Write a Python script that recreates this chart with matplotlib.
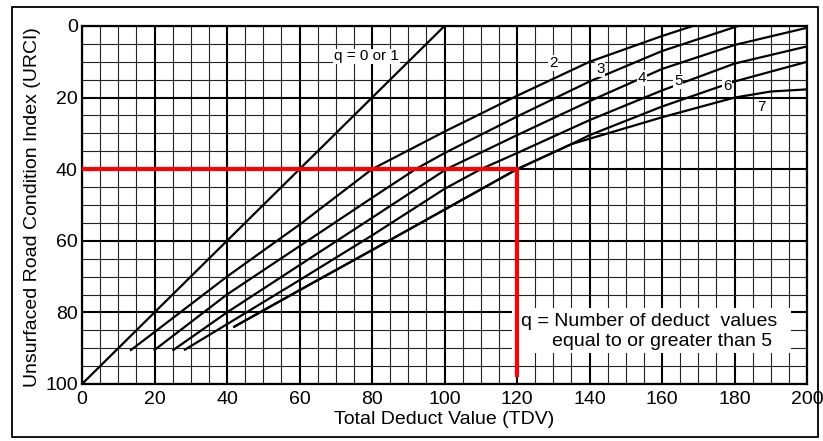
import matplotlib.pyplot as plt
from matplotlib.patches import Rectangle

plt.rcParams['font.family'] = ['Liberation Sans', 'DejaVu Sans']

# curves as (TDV, URCI) pairs
q1_tdv = [0, 100]
q1_urci = [100, 0]
q2_tdv = [13.5, 20, 40, 60, 80, 100, 120, 140, 160, 168.5]
q2_urci = [90.5, 85.5, 70, 55.5, 40, 29.5, 19.5, 10, 2.8, 0]
q3_tdv = [20, 40, 60, 80, 92, 100, 120, 140, 160, 181]
q3_urci = [90.5, 75, 61.5, 48, 40, 35.5, 25.3, 15.5, 7, 0]
q4_tdv = [25.2, 40, 60, 80, 100.5, 120, 140, 160, 180, 200]
q4_urci = [90.5, 80, 66.8, 53.6, 40, 30.5, 21, 12, 5.3, 0.5]
q5_tdv = [28.4, 40, 60, 80, 100, 110, 120, 140, 160, 180, 200]
q5_urci = [90.4, 83.3, 71, 58.5, 45.5, 40, 35.5, 26.3, 18, 10.5, 5.7]
q6_tdv = [42, 60, 80, 100, 120, 135, 140, 160, 180, 200]
q6_urci = [84, 73.8, 62.6, 51.3, 40, 33, 30.5, 22.5, 15.5, 10]
q7_tdv = [42, 60, 80, 100, 120, 135, 140, 160, 180, 190, 200]
q7_urci = [84, 73.8, 62.6, 51.3, 40, 33, 31.5, 25.5, 20, 18.3, 17.7]

curves = [(q1_tdv, q1_urci), (q2_tdv, q2_urci), (q3_tdv, q3_urci),
          (q4_tdv, q4_urci), (q5_tdv, q5_urci), (q6_tdv, q6_urci),
          (q7_tdv, q7_urci)]

# curve labels
label_text = ['q = 0 or 1', '2', '3', '4', '5', '6', '7']
label_tdv = [78.5, 130, 143, 154.5, 164.5, 178, 187.5]
label_urci = [8.5, 10.3, 12, 14.5, 15.5, 16.8, 22.5]

# worked example (red)
example_tdv = [0, 120, 120]
example_urci = [40, 40, 97.5]

fig = plt.figure(figsize=(8.23, 4.41), dpi=100)
ax = fig.add_axes([82 / 823, 1 - 384 / 441, 725 / 823, 358 / 441])

ax.set_xlim(0, 200)
ax.set_ylim(100, 0)
ax.set_xticks(range(0, 201, 20))
ax.set_yticks(range(0, 101, 20))
ax.set_xticks(range(0, 201, 5), minor=True)
ax.set_yticks(range(0, 101, 5), minor=True)
ax.grid(which='major', color='black', lw=1.5)
ax.grid(which='minor', color='#222222', lw=0.8)
ax.tick_params(which='both', length=0, labelsize=14)
ax.tick_params(axis='x', pad=5)
ax.tick_params(axis='y', pad=3)
for s in ax.spines.values():
    s.set_linewidth(1.6)

for xs, ys in curves:
    ax.plot(xs, ys, color='black', lw=1.6, zorder=3)

for t, x, y in zip(label_text, label_tdv, label_urci):
    ax.text(x, y, t, fontsize=11, ha='center', va='center', zorder=4,
            bbox=dict(facecolor='white', edgecolor='none', pad=0.5))

# white patch behind the note
ax.add_patch(Rectangle((118.5, 78.8), 77, 12.6, facecolor='white',
                       edgecolor='none', zorder=4))
ax.text(121, 82.6, 'q = Number of deduct  values', fontsize=14,
        ha='left', va='center', zorder=5)
ax.text(129.6, 88.2, 'equal to or greater than 5', fontsize=14,
        ha='left', va='center', zorder=5)

ax.plot(example_tdv, example_urci, color='#ff0000', lw=3, zorder=6,
        solid_joinstyle='miter')

ax.set_xlabel('Total Deduct Value (TDV)', fontsize=14, labelpad=2)
fig.text(33 / 823, 1 - 207 / 441, 'Unsurfaced Road Condition Index (URCI)',
         rotation=90, fontsize=14, ha='center', va='center')

fig.add_artist(Rectangle((12 / 823, 4 / 441), 806 / 823, 430 / 441,
                         transform=fig.transFigure, fill=False, lw=1.3,
                         edgecolor='black'))

fig.savefig('out.png', dpi=100)
